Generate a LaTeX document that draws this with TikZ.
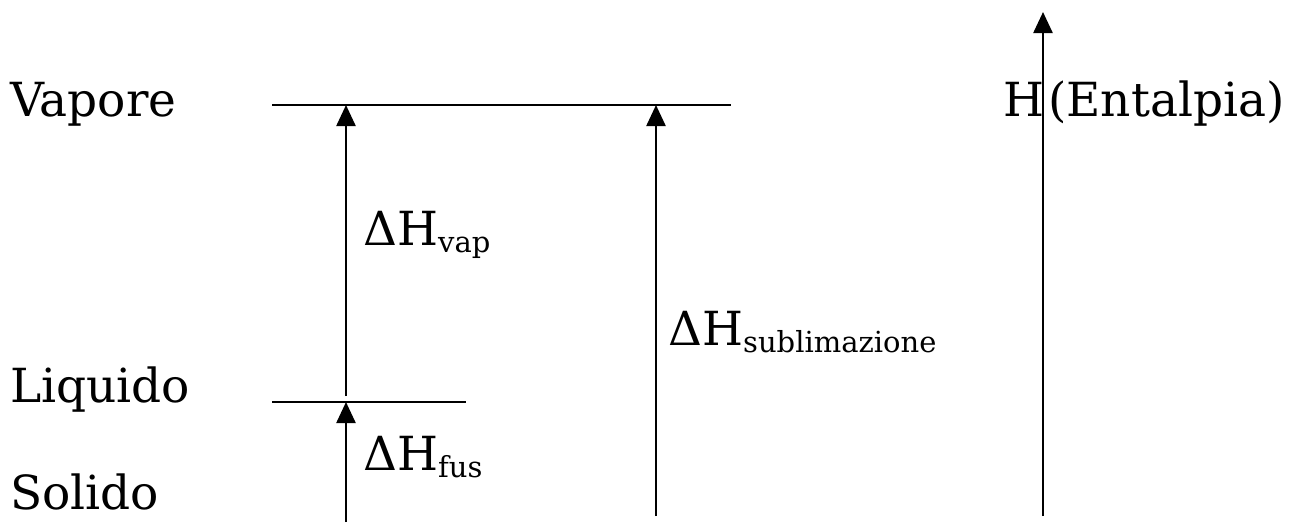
\documentclass[tikz,border=0pt]{standalone}
\usepackage{fontspec}
\setmainfont{DejaVu Serif}
\usetikzlibrary{arrows.meta}
\newcommand{\lowtext}[1]{\raisebox{-0.16em}{\fontsize{29}{29}\selectfont #1}}
\tikzset{
  lbl/.style={anchor=base west, inner sep=0pt, font=\fontsize{47}{47}\selectfont},
  level/.style={line width=2.4pt},
  up/.style={line width=2.4pt, -{Triangle[length=21pt,width=19pt]}},
}
\begin{document}
\begin{tikzpicture}[x=1pt,y=-1pt]
\useasboundingbox (0,0) rectangle (1289,522);
% state labels
\node[lbl] (vap) at (10,116) {Vapore};
\node[lbl] (liq) at (10,402) {Liquido};
\node[lbl] (sol) at (10,509) {Solido};
% energy levels
\coordinate (v1) at (272,105);
\coordinate (v2) at (731,105);
\coordinate (l1) at (272,402);
\coordinate (l2) at (466,402);
\draw[level] (v1) -- (v2);
\draw[level] (l1) -- (l2);
% transitions
\coordinate (fusA) at (346,522);
\coordinate (fusB) at (346,402);
\coordinate (vapA) at (346,396);
\coordinate (vapB) at (346,105);
\coordinate (subA) at (656,516);
\coordinate (subB) at (656,105);
\draw[up] (fusA) -- (fusB);
\draw[up] (vapA) -- (vapB);
\draw[up] (subA) -- (subB);
\node[lbl] (dvap) at (363,245) {ΔH\lowtext{vap}};
\node[lbl] (dfus) at (363,470) {ΔH\lowtext{fus}};
\node[lbl] (dsub) at (668,345) {ΔH\lowtext{sublimazione}};
% enthalpy axis
\coordinate (hA) at (1043,516);
\coordinate (hB) at (1043,12);
\draw[up] (hA) -- (hB);
\node[lbl] (hl) at (1003,116) {H};
\node[lbl] (ent) at (1048,116) {(Entalpia)};
\end{tikzpicture}
\end{document}
